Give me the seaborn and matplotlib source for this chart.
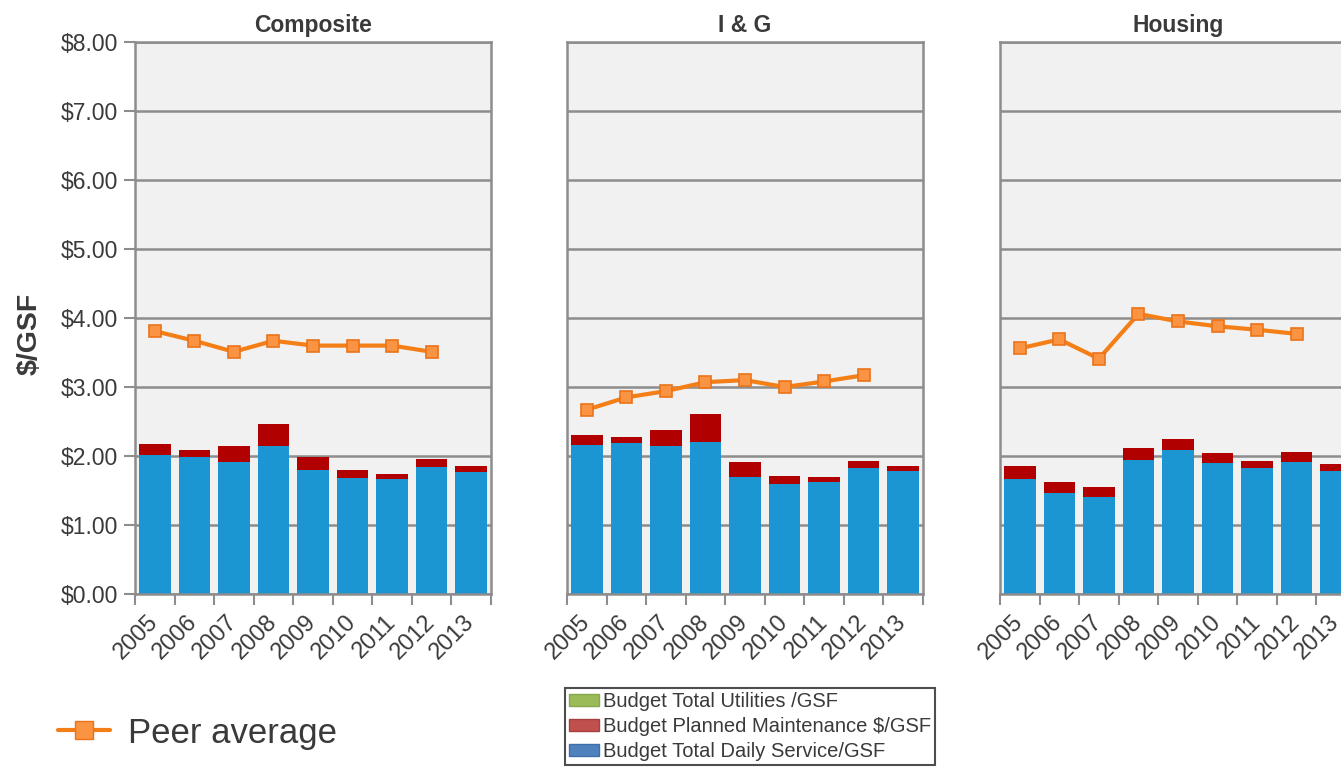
import numpy as np
import pandas as pd
import seaborn as sns
import matplotlib.pyplot as plt
from matplotlib.lines import Line2D
from matplotlib.patches import Patch

years = ["2005", "2006", "2007", "2008", "2009", "2010", "2011", "2012", "2013"]
panels = ["Composite", "I & G", "Housing"]

# Budget Total Daily Service/GSF (blue part of each bar)
daily_composite = [2.02, 1.98, 1.92, 2.14, 1.80, 1.68, 1.67, 1.84, 1.77]
daily_ig = [2.16, 2.19, 2.14, 2.21, 1.70, 1.59, 1.62, 1.83, 1.78]
daily_housing = [1.67, 1.47, 1.40, 1.94, 2.08, 1.90, 1.82, 1.92, 1.78]

# Budget Planned Maintenance $/GSF (red part stacked on top)
maint_composite = [0.15, 0.10, 0.22, 0.32, 0.19, 0.11, 0.07, 0.11, 0.08]
maint_ig = [0.14, 0.09, 0.24, 0.40, 0.21, 0.12, 0.07, 0.10, 0.08]
maint_housing = [0.18, 0.16, 0.15, 0.17, 0.17, 0.14, 0.11, 0.14, 0.10]

# Peer average (no value for 2013)
peer_composite = [3.81, 3.67, 3.51, 3.67, 3.60, 3.60, 3.60, 3.51]
peer_ig = [2.67, 2.85, 2.94, 3.07, 3.10, 3.00, 3.08, 3.17]
peer_housing = [3.56, 3.69, 3.41, 4.06, 3.95, 3.88, 3.83, 3.77]

daily = [daily_composite, daily_ig, daily_housing]
maint = [maint_composite, maint_ig, maint_housing]
peer = [peer_composite, peer_ig, peer_housing]

legend_labels = ["Budget Total Utilities /GSF",
                 "Budget Planned Maintenance $/GSF",
                 "Budget Total Daily Service/GSF"]

blue = "#1b96d3"
red = "#b10000"
orange = "#f57f17"
grid_c = "#8d8d8d"
txt_c = "#3a3a3a"

sns.set_style("white")
plt.rcParams["font.family"] = ["Liberation Sans", "DejaVu Sans"]

W, H = 1341, 770
fig = plt.figure(figsize=(W / 100, H / 100), dpi=100)

lefts = [135, 567, 1000]
ax_w = 356
top_px, bot_px = 42, 594

for i, name in enumerate(panels):
    ax = fig.add_axes([lefts[i] / W, 1 - bot_px / H, ax_w / W, (bot_px - top_px) / H])
    ax.set_facecolor("#f1f1f1")

    df = pd.DataFrame({"year": years,
                       "daily": daily[i],
                       "total": np.array(daily[i]) + np.array(maint[i])})
    sns.barplot(data=df, x="year", y="total", order=years, color=red,
                width=0.8, saturation=1, linewidth=0, ax=ax, zorder=2)
    sns.barplot(data=df, x="year", y="daily", order=years, color=blue,
                width=0.8, saturation=1, linewidth=0, ax=ax, zorder=2)

    pdf = pd.DataFrame({"year": years[:len(peer[i])], "peer": peer[i]})
    sns.pointplot(data=pdf, x="year", y="peer", order=years, color=orange,
                  markers="s", markersize=8.5, linewidth=3, errorbar=None, ax=ax)
    for ln in ax.lines:
        ln.set_markerfacecolor("#fb9442")
        ln.set_markeredgecolor("#ea731a")
        ln.set_markeredgewidth(1.2)
        ln.set_zorder(4)

    ax.set_ylim(0, 8)
    ax.set_xlim(-0.5, len(years) - 0.5)
    ax.set_yticks(np.arange(0, 9, 1))
    ax.yaxis.grid(True, color=grid_c, linewidth=1.8)
    ax.set_axisbelow(True)
    ax.set_xlabel("")
    ax.set_ylabel("")

    for sp in ax.spines.values():
        sp.set_visible(True)
        sp.set_color(grid_c)
        sp.set_linewidth(1.8)

    ax.set_xticks(np.arange(-0.5, len(years), 1), minor=True)
    ax.tick_params(axis="x", which="minor", length=8, width=1.5, color=grid_c,
                   direction="out", bottom=True)
    ax.tick_params(axis="x", which="major", length=0, pad=18, labelsize=17,
                   labelcolor=txt_c)
    ax.set_xticks(range(len(years)))
    ax.set_xticklabels(years, rotation=45, ha="right", va="center",
                       rotation_mode="anchor")

    if i == 0:
        ax.set_yticklabels([f"${v:.2f}" for v in range(0, 9)])
        ax.tick_params(axis="y", length=8, width=1.5, color=grid_c, left=True,
                       labelsize=16.5, labelcolor=txt_c, pad=4)
    else:
        ax.set_yticklabels([])
        ax.tick_params(axis="y", length=0)

    ax.set_title(name, fontsize=16.5, fontweight="bold", color=txt_c, pad=7)

fig.text(30 / W, 1 - 334 / H, "$/GSF", rotation=90, ha="center", va="center",
         fontsize=20.5, fontweight="bold", color=txt_c)

peer_handle = Line2D([], [], color=orange, linewidth=3, marker="s", markersize=13,
                     markerfacecolor="#fb9442", markeredgecolor="#ea731a")
fig.legend(handles=[peer_handle], labels=["Peer average"], loc="center left",
           bbox_to_anchor=(41 / W, 1 - 733 / H), frameon=False, fontsize=25,
           handlelength=1.5, handletextpad=0.5, borderpad=0, labelcolor=txt_c)

bar_handles = [Patch(facecolor="#9bbb59", edgecolor="#86a84a"),
               Patch(facecolor="#c0504d", edgecolor="#a8403d"),
               Patch(facecolor="#4f81bd", edgecolor="#3f6fa8")]
leg = fig.legend(handles=bar_handles, labels=legend_labels, loc="upper left",
                 bbox_to_anchor=(565 / W, 1 - 688 / H), fontsize=14.5,
                 handlelength=1.5, handleheight=0.55, handletextpad=0.2,
                 labelspacing=0.3, borderpad=0.2, borderaxespad=0,
                 fancybox=False, labelcolor=txt_c)
leg.get_frame().set_edgecolor("#222222")
leg.get_frame().set_linewidth(1.5)

fig.savefig("out.png", dpi=100)
